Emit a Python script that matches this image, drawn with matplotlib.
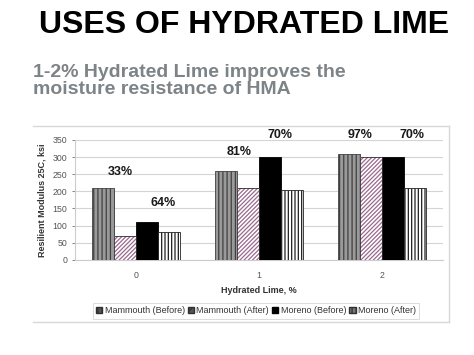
import matplotlib
matplotlib.use("Agg")
from matplotlib import pyplot as plt
from matplotlib.lines import Line2D
from matplotlib.patches import Patch
import numpy as np

plt.rcParams['font.family'] = ['Liberation Sans', 'DejaVu Sans']
plt.rcParams['hatch.linewidth'] = 0.9

lime = ['0', '1', '2']
series = ['Mammouth (Before)', 'Mammouth (After)', 'Moreno (Before)', 'Moreno (After)']
mammouth_before = [210, 260, 310]
mammouth_after = [70, 210, 300]
moreno_before = [110, 300, 300]
moreno_after = [80, 205, 210]

pct_labels = ['33%', '64%', '81%', '70%', '97%', '70%']
pct_x = [-0.13, 0.22, 0.84, 1.17, 1.82, 2.25]
pct_y = [257, 166, 315, 364, 364, 364]

fig = plt.figure(figsize=(4.74, 3.55), dpi=100)
fig.patch.set_facecolor('white')

fig.text(0.514, 0.93, 'USES OF HYDRATED LIME', ha='center', va='center',
         fontsize=23, fontweight='bold', color='black')
fig.text(0.07, 0.773, '1-2% Hydrated Lime improves the\nmoisture resistance of HMA',
         ha='left', va='center', fontsize=14, fontweight='bold', color='#7d8387',
         linespacing=1.0)

# outer chart frame (top, right, bottom)
fc = '#d8d8d8'
fig.lines.append(Line2D([0.07, 0.947], [0.645, 0.645], transform=fig.transFigure, color=fc, lw=1))
fig.lines.append(Line2D([0.07, 0.947], [0.093, 0.093], transform=fig.transFigure, color=fc, lw=1))
fig.lines.append(Line2D([0.947, 0.947], [0.093, 0.645], transform=fig.transFigure, color=fc, lw=1))

ax = fig.add_axes([0.158, 0.268, 0.777, 0.338])
x = np.arange(len(lime))
w = 0.18

ax.bar(x - 1.5 * w, mammouth_before, w, color='#9a9a9a', edgecolor='#404040',
       hatch='||||', linewidth=0.6, zorder=3)
ax.bar(x - 0.5 * w, mammouth_after, w, color='white', edgecolor='#9a6a8e',
       hatch='////////', linewidth=0, zorder=3)
ax.bar(x - 0.5 * w, mammouth_after, w, fill=False, edgecolor='#303030', linewidth=0.6, zorder=4)
ax.bar(x + 0.5 * w, moreno_before, w, color='black', edgecolor='black',
       linewidth=0.6, zorder=3)
ax.bar(x + 1.5 * w, moreno_after, w, color='white', edgecolor='#202020',
       hatch='|||||', linewidth=0.6, zorder=3)

for t, px, py in zip(pct_labels, pct_x, pct_y):
    ax.text(px, py, t, ha='center', va='center', fontsize=9, fontweight='bold',
            color='#1a1a1a', clip_on=False)

ax.set_xlim(-0.5, 2.5)
ax.set_ylim(0, 350)
ax.set_yticks(range(0, 351, 50))
ax.set_xticks(x)
ax.set_xticklabels(lime)
ax.tick_params(axis='both', labelsize=6.3, colors='#555555', length=2, width=0.5)
ax.tick_params(axis='x', length=0, pad=8)
ax.yaxis.grid(True, color='#d4d4d4', linewidth=0.8, zorder=0)
for s in ['top', 'right']:
    ax.spines[s].set_visible(False)
ax.spines['left'].set_color('#cccccc')
ax.spines['bottom'].set_color('#cccccc')
ax.set_ylabel('Resilient Modulus 25C, ksi', fontsize=6.5, fontweight='bold', color='#333333')
ax.set_xlabel('Hydrated Lime, %', fontsize=6.5, fontweight='bold', color='#333333', labelpad=4)

handles = [
    Patch(facecolor='#555555', edgecolor='#303030', hatch='||||', label=series[0]),
    Patch(facecolor='#555555', edgecolor='#303030', hatch='////', label=series[1]),
    Patch(facecolor='black', edgecolor='black', label=series[2]),
    Patch(facecolor='#777777', edgecolor='#303030', hatch='||||', label=series[3]),
]
leg = fig.legend(handles=handles, loc='center', bbox_to_anchor=(0.54, 0.124),
                 ncol=4, fontsize=6.5, handlelength=0.7, handleheight=0.7,
                 handletextpad=0.25, columnspacing=0.35, frameon=True,
                 fancybox=False, borderpad=0.35, labelcolor='#333333')
leg.get_frame().set_edgecolor('#cccccc')
leg.get_frame().set_linewidth(0.6)

plt.savefig('out.png', dpi=100)
